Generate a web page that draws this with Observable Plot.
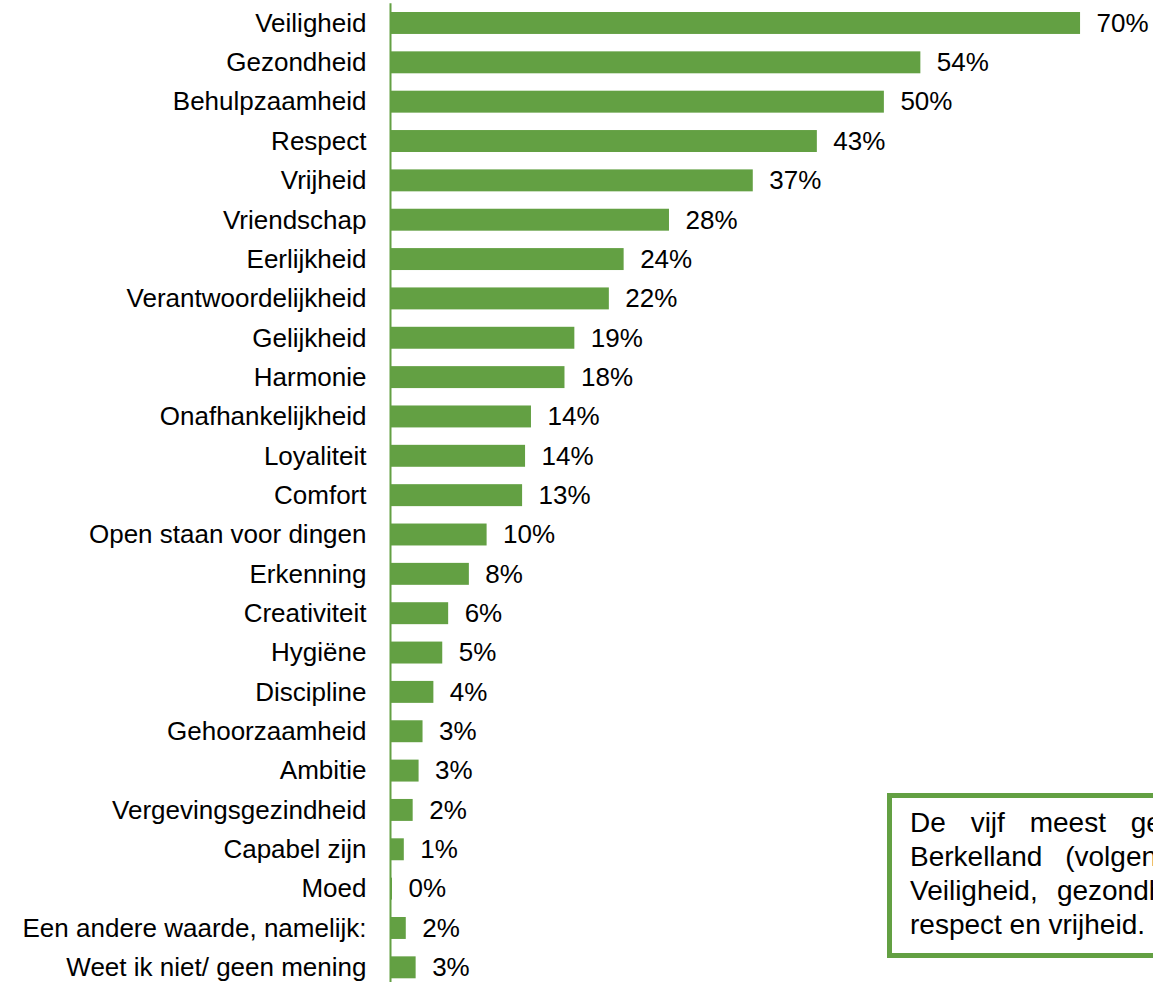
<!DOCTYPE html>
<html>
<head>
<meta charset="utf-8">
<script src="https://cdn.jsdelivr.net/npm/d3@7"></script>
<script src="https://cdn.jsdelivr.net/npm/@observablehq/plot@0.6"></script>
<style>
  html, body { margin: 0; padding: 0; background: #fff; overflow: hidden; }
  #wrap { position: relative; width: 1153px; height: 982px; overflow: hidden; }
  #box {
    position: absolute; left: 887px; top: 793px;
    border: 5px solid #63a043; background: #fff;
    padding: 8px 18px 11px 18px; width: 532px;
    font-family: "Liberation Sans", Arial, sans-serif; font-size: 28px; line-height: 34px; color: #000;
  }
  #box .l { display: block; text-align: justify; text-align-last: justify; white-space: nowrap; }
  #box .l.last { text-align-last: left; }
</style>
</head>
<body>
<div id="wrap">
  <div id="chart"></div>
  <div id="box">
    <span class="l">De vijf meest genoemde waarden in</span>
    <span class="l">Berkelland (volgens de inwoners) zijn:</span>
    <span class="l">Veiligheid, gezondheid, behulpzaamheid,</span>
    <span class="l last">respect en vrijheid.</span>
  </div>
</div>
<script>
const categories = [
  "Veiligheid", "Gezondheid", "Behulpzaamheid", "Respect", "Vrijheid",
  "Vriendschap", "Eerlijkheid", "Verantwoordelijkheid", "Gelijkheid", "Harmonie",
  "Onafhankelijkheid", "Loyaliteit", "Comfort", "Open staan voor dingen", "Erkenning",
  "Creativiteit", "Hygiëne", "Discipline", "Gehoorzaamheid", "Ambitie",
  "Vergevingsgezindheid", "Capabel zijn", "Moed", "Een andere waarde, namelijk:", "Weet ik niet/ geen mening"
];
const values = [
  70.0, 53.8, 50.1, 43.3, 36.8,
  28.3, 23.7, 22.2, 18.7, 17.7,
  14.3, 13.7, 13.4, 9.8, 8.0,
  5.9, 5.3, 4.4, 3.3, 2.9,
  2.3, 1.4, 0.2, 1.6, 2.6
];
const valueLabels = [
  "70%", "54%", "50%", "43%", "37%",
  "28%", "24%", "22%", "19%", "18%",
  "14%", "14%", "13%", "10%", "8%",
  "6%", "5%", "4%", "3%", "3%",
  "2%", "1%", "0%", "2%", "3%"
];

const data = categories.map((c, i) => ({ cat: c, v: values[i], label: valueLabels[i] }));
const green = "#63a043";

const chart = Plot.plot({
  width: 1153,
  height: 987,
  marginLeft: 390,
  marginRight: 0,
  marginTop: 3.3,
  marginBottom: 0,
  style: { fontFamily: "'Liberation Sans', Arial, sans-serif", fontSize: "26px", color: "#000", background: "#fff" },
  x: { domain: [0, 77.4], axis: null },
  y: { domain: categories, padding: 0, round: false, label: null },
  marks: [
    Plot.barX(data, { x: "v", y: "cat", fill: green, insetTop: 8.7, insetBottom: 8.7 }),
    Plot.ruleX([0], { stroke: green, strokeWidth: 2 }),
    Plot.text(data, { x: "v", y: "cat", text: "label", textAnchor: "start", dx: 16, fontSize: 26, fill: "#000" }),
    Plot.axisY({ tickSize: 0, tickPadding: 24, fontSize: 26, label: null, fill: "#000" })
  ]
});
document.getElementById("chart").appendChild(chart);
</script>
</body>
</html>
